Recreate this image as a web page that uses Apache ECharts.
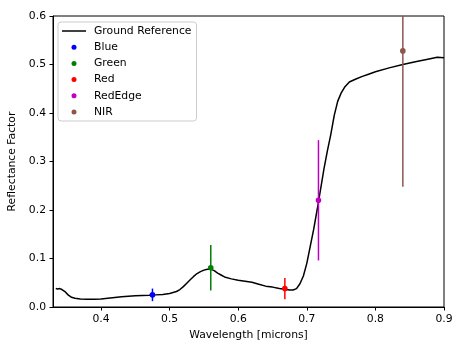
<!DOCTYPE html>
<html><head><meta charset="utf-8">
<script src="https://cdn.jsdelivr.net/npm/echarts@6/dist/echarts.min.js"></script>
<style>html,body{margin:0;padding:0;background:#fff}#c{width:453px;height:343px}</style>
</head><body><div id="c"></div>
<script>
const wavelength = [0.334,0.337,0.340,0.343,0.345,0.348,0.352,0.357,0.362,0.370,0.380,0.390,0.400,0.410,0.420,0.430,0.440,0.450,0.460,0.470,0.480,0.490,0.500,0.505,0.510,0.515,0.520,0.525,0.530,0.535,0.540,0.545,0.550,0.555,0.560,0.565,0.570,0.575,0.580,0.590,0.600,0.610,0.620,0.630,0.640,0.650,0.660,0.670,0.675,0.680,0.685,0.690,0.695,0.700,0.705,0.710,0.715,0.720,0.725,0.730,0.735,0.740,0.745,0.750,0.755,0.762,0.770,0.780,0.790,0.800,0.820,0.840,0.860,0.880,0.890,0.900];
const reflectance = [0.038,0.037,0.038,0.036,0.035,0.031,0.025,0.020,0.018,0.0165,0.016,0.016,0.0165,0.018,0.0195,0.021,0.022,0.023,0.0235,0.024,0.025,0.026,0.028,0.030,0.032,0.036,0.042,0.049,0.056,0.063,0.069,0.073,0.076,0.078,0.078,0.075,0.070,0.066,0.062,0.058,0.055,0.053,0.051,0.047,0.043,0.041,0.038,0.036,0.035,0.035,0.038,0.048,0.064,0.090,0.125,0.160,0.200,0.242,0.285,0.322,0.356,0.395,0.424,0.441,0.453,0.464,0.469,0.475,0.480,0.485,0.493,0.500,0.506,0.512,0.515,0.514];
const bandNames = ['Blue','Green','Red','RedEdge','NIR'];
const bandWavelength = [0.475,0.560,0.668,0.717,0.840];
const bandValue = [0.025,0.081,0.038,0.220,0.528];
const bandError = [0.013,0.047,0.022,0.124,0.280];
const bandColors = ['#0000ff','#008000','#ff0000','#bf00bf','#8c564b'];
const xTicks = [0.4,0.5,0.6,0.7,0.8,0.9];

const chart = echarts.init(document.getElementById('c'));
const font = 'DejaVu Sans';
const fs = 10.8;
const series = [{
  name: 'Ground Reference', type: 'line', symbol: 'none', showSymbol: false,
  data: wavelength.map((w,i)=>[w, reflectance[i]]),
  lineStyle: {color:'#000', width:1.5}, itemStyle:{color:'#000'}, z: 3, silent: true
}];
bandNames.forEach((n,i)=>{
  series.push({
    name: n, type: 'custom', itemStyle:{color: bandColors[i]}, z: 4,
    data: [[bandWavelength[i], bandValue[i], bandError[i]]],
    renderItem: function(params, api){
      const x = api.value(0), y = api.value(1), e = api.value(2);
      const lo = api.coord([x, Math.max(0, y - e)]);
      const hi = api.coord([x, Math.min(0.6, y + e)]);
      const c = api.coord([x, y]);
      return {type:'group', children:[
        {type:'line', shape:{x1:lo[0], y1:lo[1], x2:hi[0], y2:hi[1]}, style:{stroke: bandColors[i], lineWidth:1.5}},
        {type:'circle', shape:{cx:c[0], cy:c[1], r:2.8}, style:{fill: bandColors[i]}}
      ]};
    }
  });
});
chart.setOption({
  animation: false,
  textStyle: {fontFamily: font},
  grid: {left:53, right:9, top:16, bottom:36, show:true, borderColor:'#000', borderWidth:1,
         containLabel:false, outerBoundsMode:'none'},
  legend: {
    orient:'vertical', left:58, top:22, padding:[3,5,3,4], itemGap:4.2,
    itemWidth:24, itemHeight:5,
    backgroundColor:'rgba(255,255,255,0.8)', borderColor:'#cccccc', borderWidth:1, borderRadius:3,
    textStyle:{fontFamily:font, fontSize:fs, color:'#000', lineHeight:12, padding:[0,0,0,3]},
    data: [{name:'Ground Reference', icon:'path://M0,0L24,0L24,1.5L0,1.5Z', itemStyle:{color:'#000'}}]
      .concat(bandNames.map(n=>({name:n, icon:'circle'})))
  },
  xAxis: {
    type:'value', min:0.33, max:0.9,
    name:'Wavelength [microns]', nameLocation:'middle', nameGap:21,
    nameTextStyle:{fontFamily:font, fontSize:fs, color:'#000'},
    axisLine:{lineStyle:{color:'#000', width:1}},
    axisTick:{show:true, length:3.5, lineStyle:{color:'#000'}, customValues: xTicks},
    axisLabel:{color:'#000', fontFamily:font, fontSize:fs, margin:7, customValues: xTicks,
      formatter: v=>v.toFixed(1)},
    splitLine:{show:false}
  },
  yAxis: {
    type:'value', min:0, max:0.6, interval:0.1,
    name:'Reflectance Factor', nameLocation:'middle', nameGap:24.5,
    nameTextStyle:{fontFamily:font, fontSize:fs, color:'#000'},
    axisLine:{show:true, lineStyle:{color:'#000', width:1}},
    axisTick:{show:true, length:3.5, lineStyle:{color:'#000'}},
    axisLabel:{color:'#000', fontFamily:font, fontSize:fs, margin:7, formatter: v=>v.toFixed(1)},
    splitLine:{show:false}
  },
  series: series
});
</script></body></html>
